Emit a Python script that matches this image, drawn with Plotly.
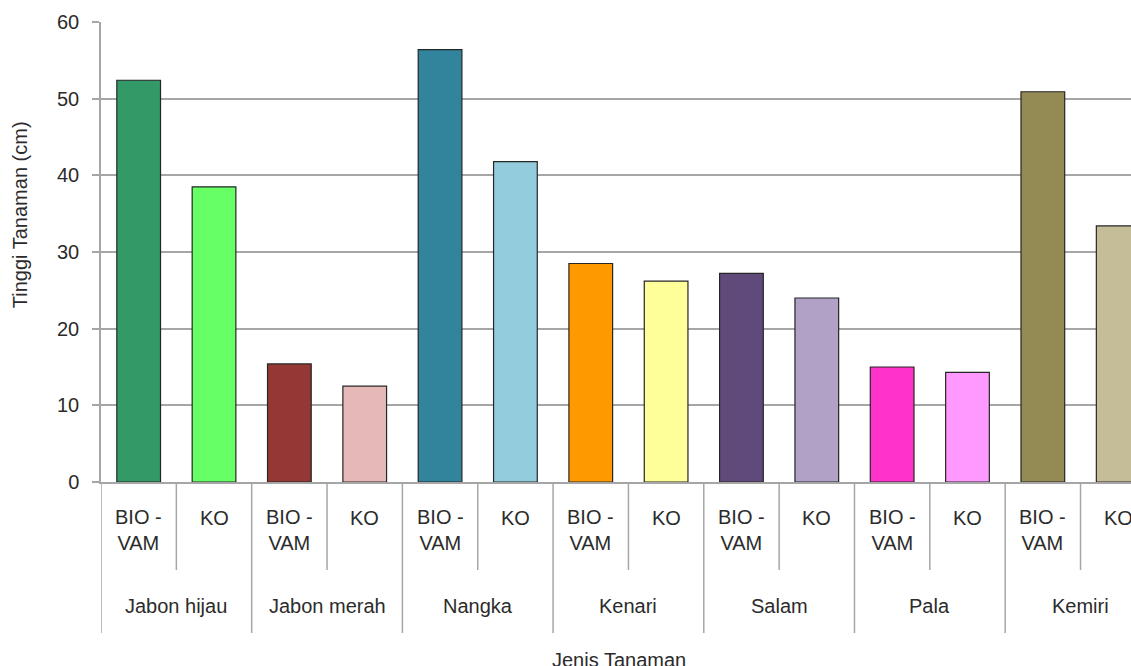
import plotly.graph_objects as go

groups = ["Jabon hijau", "Jabon merah", "Nangka", "Kenari", "Salam", "Pala", "Kemiri"]
treatments = ["BIO -<br>VAM", "KO"]
bio_vam = [52.4, 15.4, 56.4, 28.5, 27.2, 15.0, 50.9]
ko = [38.5, 12.5, 41.8, 26.2, 24.0, 14.3, 33.4]
bio_colors = ["#339966", "#953735", "#31849B", "#FF9900", "#604A7B", "#FF33CC", "#948A54"]
ko_colors = ["#66FF66", "#E6B9B8", "#93CDDD", "#FFFF99", "#B2A1C7", "#FF99FF", "#C4BD97"]
y_ticks = [0, 10, 20, 30, 40, 50, 60]

FONT = "Liberation Sans, Arial, sans-serif"
TXT = "#2b2b2b"
GRID = "#A6A6A6"

xs, ys, cols, sub_labels = [], [], [], []
for gi, g in enumerate(groups):
    for ti, (vals, cl) in enumerate(((bio_vam, bio_colors), (ko, ko_colors))):
        xs.append(gi * 2 + ti)
        ys.append(vals[gi])
        cols.append(cl[gi])
        sub_labels.append(treatments[ti])

fig = go.Figure(go.Bar(
    x=xs, y=ys, width=0.58,
    marker=dict(color=cols, line=dict(color="#262626", width=1.2)),
    hoverinfo="skip",
))

PH = 460.0  # plot height px
def py(px_below):
    return -px_below / PH

annotations = []
shapes = []
for i, lab in enumerate(sub_labels):
    annotations.append(dict(
        x=i, y=0, xref="x", yref="paper", text=lab, showarrow=False,
        yanchor="middle", yshift=-48 if "VAM" in lab else -36,
        font=dict(family=FONT, size=20, color=TXT), align="center"))
    if i % 2 == 0:
        shapes.append(dict(type="line", xref="x", yref="paper", x0=i + 0.5, x1=i + 0.5,
                           y0=0, y1=py(88), line=dict(color=GRID, width=1.5)))
for gi, g in enumerate(groups):
    annotations.append(dict(
        x=gi * 2 + 0.5, y=0, xref="x", yref="paper", text=g, showarrow=False,
        yanchor="middle", yshift=-124, font=dict(family=FONT, size=20, color=TXT)))
    shapes.append(dict(type="line", xref="x", yref="paper", x0=gi * 2 - 0.5, x1=gi * 2 - 0.5,
                       y0=0, y1=py(151), line=dict(color=GRID, width=1.5)))

annotations.append(dict(x=0, y=0.58, xref="paper", yref="paper", text="Tinggi Tanaman (cm)",
                        showarrow=False, textangle=-90, xanchor="center", yanchor="middle",
                        xshift=-81, font=dict(family=FONT, size=20, color=TXT)))
annotations.append(dict(x=0.503, y=0, xref="paper", yref="paper", text="Jenis Tanaman",
                        showarrow=False, xanchor="center", yanchor="middle", yshift=-178,
                        font=dict(family=FONT, size=20, color=TXT)))

fig.update_layout(
    width=1131, height=666,
    margin=dict(l=101, r=0, t=22, b=184),
    paper_bgcolor="white", plot_bgcolor="white",
    showlegend=False,
    annotations=annotations, shapes=shapes,
    xaxis=dict(range=[-0.5, 13.17], showticklabels=False, ticks="", showgrid=False,
               zeroline=False, showline=True, linecolor=GRID, linewidth=1.5),
    yaxis=dict(range=[0, 60], tickvals=y_ticks, showgrid=True, gridcolor=GRID, gridwidth=1.5,
               zeroline=False, showline=True, linecolor=GRID, linewidth=1.5,
               ticks="outside", ticklen=7, tickcolor=GRID, tickwidth=1.5,
               ticklabelstandoff=9,
               tickfont=dict(family=FONT, size=20, color=TXT)),
)

fig.write_html("out.html")
